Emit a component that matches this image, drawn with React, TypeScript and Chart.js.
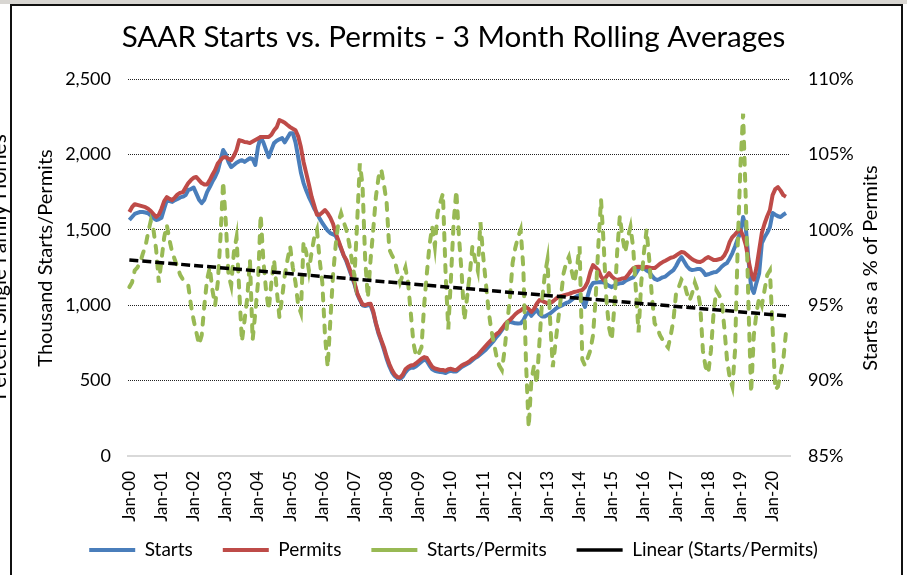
import React, { useEffect, useRef } from 'react';
import { Chart, registerables } from 'chart.js';

Chart.register(...registerables);

const FONT = 'Lato, "Open Sans", sans-serif';

const TITLE = 'SAAR Starts vs. Permits - 3 Month Rolling Averages';
const LEFT_AXIS_TITLE = 'Thousand Starts/Permits';
const RIGHT_AXIS_TITLE = 'Starts as a % of Permits';
const CROPPED_LEFT_TEXT = 'Percent Single Family Homes';

const MONTH_NAMES = ['Jan', 'Feb', 'Mar', 'Apr', 'May', 'Jun', 'Jul', 'Aug', 'Sep', 'Oct', 'Nov', 'Dec'];
const FIRST_YEAR = 0;
const CATEGORY_COUNT = 247;
const CATEGORIES: string[] = Array.from(
  { length: CATEGORY_COUNT },
  (_, i) => `${MONTH_NAMES[i % 12]}-${String(FIRST_YEAR + Math.floor(i / 12)).padStart(2, '0')}`
);

const LEFT_MIN = 0;
const LEFT_MAX = 2500;
const LEFT_STEP = 500;
const RIGHT_MIN = 85;
const RIGHT_MAX = 110;
const RIGHT_STEP = 5;

// Thousand units, SAAR, 3-month rolling average
const STARTS = [
  1565, 1585, 1605, 1612, 1618, 1618, 1615, 1610, 1595, 1578,
  1565, 1570, 1580, 1640, 1697, 1690, 1685, 1697, 1705, 1715,
  1720, 1730, 1764, 1770, 1780, 1740, 1700, 1677, 1700, 1750,
  1783, 1820, 1850, 1890, 1960, 2029, 2000, 1950, 1916, 1930,
  1945, 1955, 1962, 1950, 1963, 1975, 1970, 1930, 2050, 2115,
  2080, 2030, 1982, 2030, 2075, 2090, 2100, 2108, 2080, 2110,
  2141, 2141, 2080, 1982, 1880, 1810, 1760, 1717, 1680, 1640,
  1611, 1575, 1545, 1520, 1495, 1478, 1470, 1460, 1420, 1375,
  1330, 1290, 1240, 1190, 1140, 1075, 1035, 1000, 995, 1000,
  1000, 950, 875, 810, 760, 705, 645, 595, 555, 530,
  515, 510, 525, 555, 575, 585, 585, 595, 610, 625,
  640, 630, 600, 575, 565, 560, 557, 555, 550, 560,
  565, 560, 560, 575, 590, 600, 610, 620, 635, 650,
  660, 675, 690, 705, 725, 745, 765, 790, 810, 835,
  860, 880, 890, 885, 880, 878, 880, 900, 935, 955,
  930, 950, 970, 940, 925, 925, 935, 945, 960, 975,
  988, 995, 1005, 1015, 1021, 1035, 1050, 1060, 1067, 1030,
  988, 1060, 1120, 1147, 1150, 1152, 1154, 1150, 1140, 1128,
  1120, 1130, 1140, 1145, 1147, 1160, 1170, 1178, 1185, 1210,
  1240, 1253, 1245, 1230, 1220, 1195, 1175, 1167, 1175, 1185,
  1190, 1205, 1220, 1233, 1260, 1295, 1319, 1290, 1260, 1240,
  1233, 1236, 1240, 1240, 1225, 1200, 1205, 1212, 1218, 1220,
  1235, 1255, 1270, 1280, 1310, 1346, 1390, 1440, 1478, 1585,
  1520, 1300, 1120, 1081, 1150, 1213, 1412, 1450, 1480, 1518,
  1611, 1600, 1590, 1585, 1600, 1611,
];

const PERMITS = [
  1618, 1650, 1670, 1665, 1660, 1655, 1650, 1640, 1625, 1605,
  1585, 1600, 1640, 1690, 1717, 1705, 1697, 1715, 1735, 1745,
  1750, 1780, 1810, 1830, 1845, 1850, 1830, 1810, 1800, 1800,
  1830, 1865, 1896, 1940, 1962, 1980, 1982, 1970, 1962, 1990,
  2029, 2095, 2090, 2082, 2080, 2075, 2085, 2095, 2105, 2115,
  2115, 2115, 2115, 2130, 2160, 2181, 2228, 2220, 2210, 2195,
  2181, 2170, 2160, 2120, 2049, 1950, 1876, 1800, 1720, 1660,
  1600, 1600, 1615, 1631, 1610, 1580, 1540, 1478, 1430, 1380,
  1330, 1300, 1250, 1200, 1150, 1081, 1040, 1005, 1001, 1008,
  1010, 960, 882, 820, 769, 720, 660, 610, 570, 540,
  524, 520, 540, 575, 590, 600, 603, 615, 630, 645,
  656, 650, 620, 592, 580, 575, 570, 570, 565, 575,
  578, 572, 570, 585, 600, 610, 617, 630, 645, 656,
  670, 690, 710, 730, 750, 769, 790, 810, 822, 845,
  870, 890, 902, 920, 940, 955, 965, 980, 988, 975,
  955, 975, 1010, 1034, 1030, 1020, 1014, 1014, 1025, 1040,
  1054, 1060, 1065, 1070, 1075, 1081, 1088, 1092, 1097, 1101,
  1120, 1154, 1220, 1266, 1250, 1233, 1190, 1167, 1190, 1213,
  1190, 1175, 1167, 1172, 1178, 1180, 1200, 1225, 1245, 1253,
  1255, 1253, 1250, 1253, 1250, 1246, 1246, 1260, 1275, 1286,
  1295, 1305, 1315, 1319, 1330, 1342, 1353, 1350, 1335, 1319,
  1305, 1295, 1288, 1286, 1295, 1310, 1319, 1310, 1300, 1300,
  1305, 1310, 1330, 1366, 1420, 1452, 1470, 1490, 1498, 1460,
  1400, 1300, 1213, 1170, 1250, 1366, 1480, 1540, 1590, 1631,
  1730, 1770, 1783, 1760, 1730, 1720,
];

// Starts as a % of permits
const RATIO = [
  96.2, 96.5, 97.3, 97.5, 97.8, 98.4, 98.9, 99.8, 100.6, 100.0,
  98.7, 96.5, 98.0, 99.5, 100.3, 99.3, 98.5, 98.0, 97.5, 97.0,
  96.7, 96.5, 96.3, 95.0, 94.0, 93.2, 92.4, 93.0, 95.0, 96.7,
  97.5, 96.0, 95.0, 96.5, 99.5, 103.2, 100.5, 97.0, 96.3, 98.5,
  99.5, 96.0, 92.6, 94.0, 95.5, 98.0, 92.7, 94.5, 96.5, 101.0,
  98.0, 96.0, 94.7, 96.5, 98.0, 96.0, 94.2, 95.5, 97.0, 98.0,
  98.9, 97.5, 96.5, 95.0, 94.5, 99.2, 98.5, 97.3, 98.5, 99.5,
  100.0, 98.0, 96.5, 93.0, 90.9, 94.0, 97.0, 99.0, 100.5, 101.1,
  100.5, 100.0, 99.1, 98.0, 96.9, 100.5, 104.4, 103.0, 98.0, 95.5,
  98.0, 100.0, 102.2, 103.5, 104.0, 103.0, 101.8, 98.7, 98.3, 98.0,
  97.2, 96.5, 97.0, 97.5, 96.5, 94.5, 92.5, 91.6, 91.8, 92.2,
  95.0, 97.1, 99.0, 100.2, 98.9, 101.1, 101.8, 102.4, 97.1, 93.4,
  96.8, 100.5, 102.6, 99.5, 97.1, 94.0, 95.5, 97.0, 98.9, 98.0,
  97.3, 100.5, 98.3, 96.5, 94.7, 93.4, 92.5, 91.6, 91.0, 90.7,
  92.0, 93.8, 95.5, 97.8, 98.8, 99.5, 100.0, 97.5, 91.2, 86.9,
  90.0, 91.0, 89.8, 92.5, 95.3, 97.0, 98.0, 94.0, 90.9, 92.5,
  94.0, 95.5, 97.1, 97.8, 98.2, 97.3, 96.5, 97.5, 98.9, 91.4,
  91.0, 91.5, 92.0, 93.0, 95.5, 99.0, 102.0, 99.0, 95.3, 93.5,
  92.7, 95.0, 98.5, 100.9, 99.5, 98.5, 99.5, 100.2, 98.8, 96.0,
  93.2, 96.5, 98.5, 100.0, 98.0, 95.5, 93.8, 93.5, 93.0, 92.7,
  92.4, 92.2, 93.0, 94.0, 95.8, 96.2, 96.7, 96.5, 95.8, 95.3,
  95.8, 96.5, 96.0, 95.0, 92.0, 90.9, 90.5, 92.0, 94.5, 96.0,
  95.7, 95.3, 93.5, 91.4, 90.2, 89.6, 92.0, 99.0, 104.2, 107.7,
  102.0, 95.0, 89.2, 93.0, 94.5, 95.5, 95.0, 96.0, 97.0, 97.3,
  93.5, 89.4, 89.6, 90.5, 91.4, 93.2,
];

// Linear trendline of the ratio, read at its two ends
const TREND_START = 98.0;
const TREND_END = 94.3;

const COLORS = {
  starts: '#4a7ebb',
  permits: '#be4b48',
  ratio: '#98b954',
  trend: '#000000',
};

const TREND_DATA = RATIO.map((_, i) => (i === 0 ? TREND_START : i === RATIO.length - 1 ? TREND_END : null));

const axisTitlePlugin = {
  id: 'axisTitles',
  afterLayout(chart: any) {
    // let the rotated month labels extend below the scale box (they would be clipped otherwise)
    const x = chart.scales.x;
    if (x) x.bottom = chart.height;
  },
  afterDraw(chart: any) {
    const { ctx } = chart;
    const draw = (text: string, x: number, y: number) => {
      ctx.save();
      ctx.translate(x, y);
      ctx.rotate(-Math.PI / 2);
      ctx.fillText(text, 0, 0);
      ctx.restore();
    };
    ctx.save();
    ctx.fillStyle = '#000';
    ctx.textAlign = 'center';
    ctx.textBaseline = 'middle';
    ctx.font = `20px ${FONT}`;
    draw(LEFT_AXIS_TITLE, 46, 258);
    draw(RIGHT_AXIS_TITLE, 871, 268);
    ctx.font = `21px ${FONT}`;
    draw(CROPPED_LEFT_TEXT, -1, 267);
    ctx.restore();
  },
};

export default function App() {
  const canvasRef = useRef<HTMLCanvasElement | null>(null);

  useEffect(() => {
    document.body.style.margin = '0';
    const canvas = canvasRef.current;
    if (!canvas) return;
    Chart.defaults.font.family = FONT;
    Chart.defaults.color = '#000';

    const chart = new Chart(canvas, {
      type: 'line',
      data: {
        labels: CATEGORIES,
        datasets: [
          {
            label: 'Starts',
            data: STARTS,
            yAxisID: 'y',
            borderColor: COLORS.starts,
            backgroundColor: COLORS.starts,
            borderWidth: 4,
            pointRadius: 0,
            borderJoinStyle: 'round',
            order: 4,
          },
          {
            label: 'Permits',
            data: PERMITS,
            yAxisID: 'y',
            borderColor: COLORS.permits,
            backgroundColor: COLORS.permits,
            borderWidth: 4,
            pointRadius: 0,
            borderJoinStyle: 'round',
            order: 3,
          },
          {
            label: 'Starts/Permits',
            data: RATIO,
            yAxisID: 'y1',
            borderColor: COLORS.ratio,
            backgroundColor: COLORS.ratio,
            borderWidth: 4,
            borderDash: [7, 9],
            borderCapStyle: 'round',
            pointRadius: 0,
            order: 2,
          },
          {
            label: 'Linear (Starts/Permits)',
            data: TREND_DATA,
            yAxisID: 'y1',
            borderColor: COLORS.trend,
            backgroundColor: COLORS.trend,
            borderWidth: 3.5,
            borderDash: [9, 4],
            spanGaps: true,
            pointRadius: 0,
            order: 1,
          },
        ],
      },
      options: {
        responsive: false,
        animation: false,
        devicePixelRatio: 1,
        events: [],
        layout: { padding: { left: 0, right: 0, top: 0, bottom: 5.5 } },
        plugins: {
          title: {
            display: true,
            text: TITLE,
            color: '#000',
            font: { size: 29.6, family: FONT, weight: 'normal' },
            padding: { top: 20, bottom: 23.5 },
          },
          legend: {
            position: 'bottom',
            labels: {
              usePointStyle: true,
              pointStyle: 'line',
              pointStyleWidth: 46,
              color: '#000',
              font: { size: 19, family: FONT },
              padding: 30,
              sort: (a: any, b: any) => a.datasetIndex - b.datasetIndex,
            },
          },
          tooltip: { enabled: false },
        },
        scales: {
          x: {
            type: 'category',
            offset: true,
            grid: { display: false, drawTicks: false },
            border: { display: true, color: '#d9d9d9', width: 2 },
            ticks: {
              autoSkip: false,
              minRotation: 90,
              maxRotation: 90,
              padding: 15,
              color: '#000',
              font: { size: 17, family: FONT },
              callback: (_v: any, index: number) =>
                CATEGORIES[index].startsWith('Jan') ? CATEGORIES[index] : null,
            },
            afterFit: (s: any) => {
              s.height = 54.5;
            },
          },
          y: {
            position: 'left',
            min: LEFT_MIN,
            max: LEFT_MAX,
            ticks: {
              stepSize: LEFT_STEP,
              padding: 17,
              color: '#000',
              font: { size: 18, family: FONT },
              callback: (v: any) => Number(v).toLocaleString('en-US'),
            },
            grid: {
              color: (c: any) => (c.tick && c.tick.value === 0 ? 'rgba(0,0,0,0)' : '#222'),
              lineWidth: 1,
              drawTicks: false,
            },
            border: { display: false, dash: [1, 1] },
            afterFit: (s: any) => {
              s.width = 128;
            },
          },
          y1: {
            position: 'right',
            min: RIGHT_MIN,
            max: RIGHT_MAX,
            ticks: {
              stepSize: RIGHT_STEP,
              padding: 18,
              color: '#000',
              font: { size: 18, family: FONT },
              callback: (v: any) => `${v}%`,
            },
            grid: { drawOnChartArea: false, drawTicks: false },
            border: { display: false },
            afterFit: (s: any) => {
              s.width = 117;
            },
          },
        },
      } as any,
      plugins: [axisTitlePlugin],
    });

    return () => chart.destroy();
  }, []);

  return (
    <div style={{ position: 'absolute', left: 0, top: 0, width: 907, height: 575, background: '#fff', overflow: 'hidden' }}>
      <canvas ref={canvasRef} width={907} height={575} style={{ position: 'absolute', left: 0, top: 0, width: 907, height: 575 }} />
      <div style={{ position: 'absolute', left: 0, top: 0, width: 907, height: 4, background: '#d8d6d2' }} />
      <div style={{ position: 'absolute', left: 10, top: 4, width: 893, height: 2, background: '#111' }} />
      <div style={{ position: 'absolute', left: 10, top: 4, width: 2, height: 571, background: '#111' }} />
      <div style={{ position: 'absolute', left: 901, top: 4, width: 2, height: 571, background: '#111' }} />
    </div>
  );
}
